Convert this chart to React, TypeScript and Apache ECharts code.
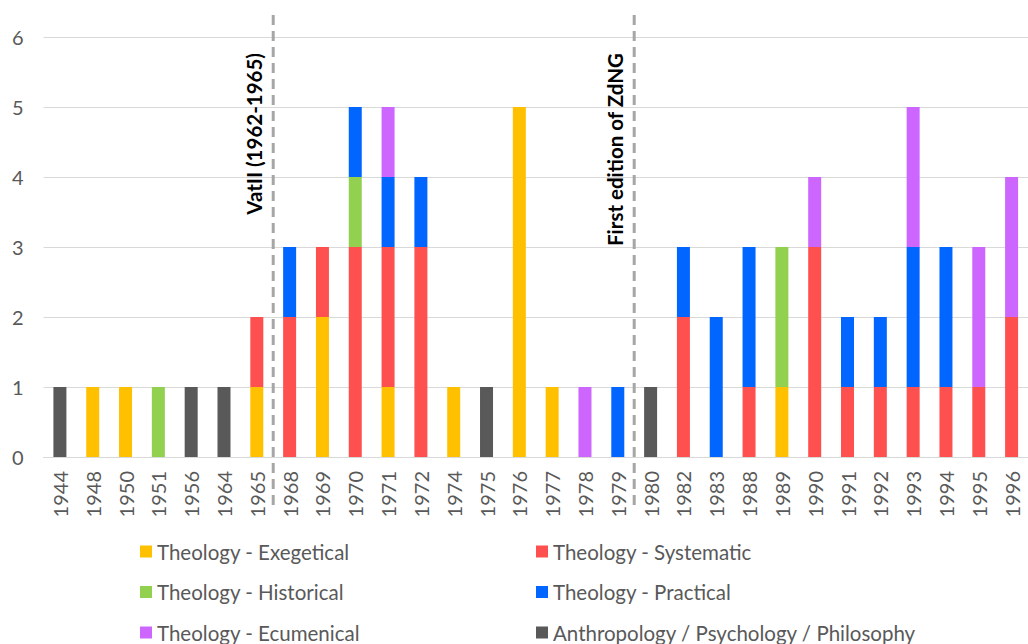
import React, { useEffect, useRef } from "react";
import * as echarts from "echarts";

const years = ["1944","1948","1950","1951","1956","1964","1965","1968","1969","1970","1971","1972","1974","1975","1976","1977","1978","1979","1980","1982","1983","1988","1989","1990","1991","1992","1993","1994","1995","1996"];

const exegetical = [0,1,1,0,0,0,1,0,2,0,1,0,1,0,5,1,0,0,0,0,0,0,1,0,0,0,0,0,0,0];
const systematic = [0,0,0,0,0,0,1,2,1,3,2,3,0,0,0,0,0,0,0,2,0,1,0,3,1,1,1,1,1,2];
const historical = [0,0,0,1,0,0,0,0,0,1,0,0,0,0,0,0,0,0,0,0,0,0,2,0,0,0,0,0,0,0];
const practical  = [0,0,0,0,0,0,0,1,0,1,1,1,0,0,0,0,0,1,0,1,2,2,0,0,1,1,2,2,0,0];
const ecumenical = [0,0,0,0,0,0,0,0,0,0,1,0,0,0,0,0,1,0,0,0,0,0,0,1,0,0,2,0,2,2];
const anthropology = [1,0,0,0,1,1,0,0,0,0,0,0,0,1,0,0,0,0,1,0,0,0,0,0,0,0,0,0,0,0];

const yTicks = [0, 1, 2, 3, 4, 5, 6];

const seriesDefs = [
  { name: "Theology - Exegetical", data: exegetical, color: "#FFC000" },
  { name: "Theology - Systematic", data: systematic, color: "#FF5050" },
  { name: "Theology - Historical", data: historical, color: "#92D050" },
  { name: "Theology - Practical", data: practical, color: "#0066FF" },
  { name: "Theology - Ecumenical", data: ecumenical, color: "#CC66FF" },
  { name: "Anthropology / Psychology / Philosophy", data: anthropology, color: "#595959" },
];

const events = [
  { after: "1965", label: "VatII (1962-1965)" },
  { after: "1979", label: "First edition of ZdNG" },
];

const FONT = "Lato, 'Open Sans', sans-serif";

export default function App() {
  const ref = useRef<HTMLDivElement>(null);
  useEffect(() => {
    if (!ref.current) return;
    const chart = echarts.init(ref.current, null, { renderer: "svg" });
    const legendText = { fontSize: 20.5, color: "#595959", fontFamily: FONT };
    chart.setOption({
      animation: false,
      textStyle: { fontFamily: FONT },
      grid: { left: 43.5, top: 37, width: 990, height: 420 },
      legend: [
        {
          orient: "vertical", left: 140, top: 541, padding: 0, itemGap: 19.5,
          itemWidth: 12, itemHeight: 12, icon: "rect",
          data: ["Theology - Exegetical", "Theology - Historical", "Theology - Ecumenical"],
          textStyle: legendText,
        },
        {
          orient: "vertical", left: 536, top: 541, padding: 0, itemGap: 19.5,
          itemWidth: 12, itemHeight: 12, icon: "rect",
          data: ["Theology - Systematic", "Theology - Practical", "Anthropology / Psychology / Philosophy"],
          textStyle: legendText,
        },
      ],
      xAxis: {
        type: "category",
        data: years,
        axisLine: { show: true, lineStyle: { color: "#d9d9d9", width: 1 } },
        axisTick: { show: false },
        axisLabel: { rotate: 90, margin: 14, fontSize: 20, color: "#595959", fontFamily: FONT, interval: 0 },
      },
      yAxis: {
        type: "value",
        min: yTicks[0],
        max: yTicks[yTicks.length - 1],
        interval: 1,
        axisLine: { show: false },
        axisTick: { show: false },
        axisLabel: { margin: 20, fontSize: 20, color: "#595959", fontFamily: FONT },
        splitLine: { lineStyle: { color: "#d9d9d9", width: 1 } },
      },
      series: seriesDefs.map((s) => ({
        name: s.name,
        type: "bar",
        stack: "total",
        barWidth: 13,
        itemStyle: { color: s.color },
        data: s.data.map((v) => (v === 0 ? "-" : v)),
      })),
    });

    const graphics: any[] = [];
    events.forEach((ev) => {
      const i = years.indexOf(ev.after);
      const a = chart.convertToPixel({ xAxisIndex: 0 }, i) as number;
      const b = chart.convertToPixel({ xAxisIndex: 0 }, i + 1) as number;
      const x = (a + b) / 2;
      graphics.push({
        type: "line",
        shape: { x1: x, y1: 15, x2: x, y2: 508 },
        style: { stroke: "#a6a6a6", lineWidth: 3, lineDash: [10, 6] },
        z: 10,
      });
      graphics.push({
        type: "text",
        x: x - 19,
        y: 53,
        rotation: Math.PI / 2,
        style: {
          text: ev.label,
          fill: "#000000",
          fontSize: 20.5,
          fontWeight: "bold",
          fontFamily: FONT,
          align: "right",
          verticalAlign: "middle",
        },
        z: 11,
      });
    });
    chart.setOption({ graphic: graphics });

    return () => chart.dispose();
  }, []);
  return (
    <div
      ref={ref}
      style={{ position: "fixed", left: 0, top: 0, width: 1028, height: 644, background: "#fff" }}
    />
  );
}
